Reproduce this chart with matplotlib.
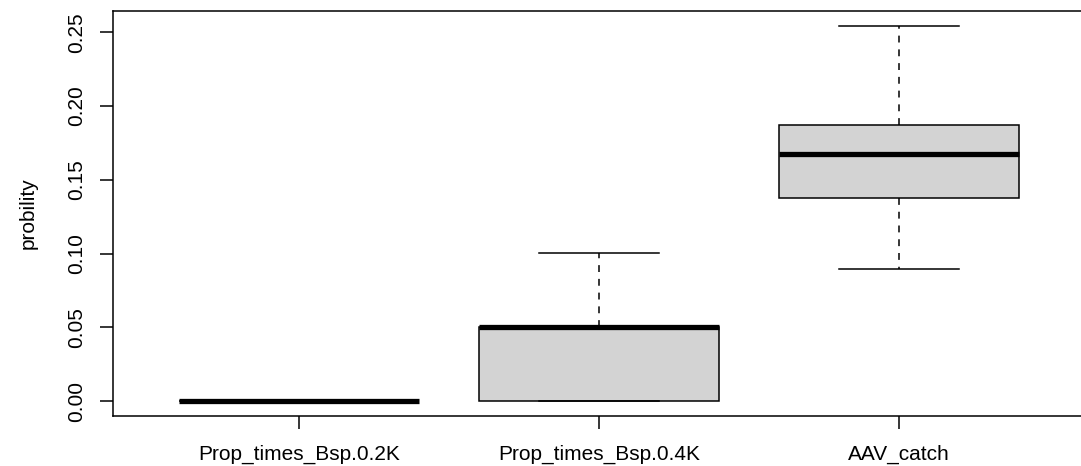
import matplotlib
matplotlib.use("Agg")
import matplotlib.pyplot as plt

#-----------------------------#
#            Data
#-----------------------------#

labels = ["Prop_times_Bsp.0.2K", "Prop_times_Bsp.0.4K", "AAV_catch"]
whis_low = [0.0, 0.0, 0.0897]
q1 = [0.0, 0.0, 0.1377]
medians = [0.0, 0.05, 0.1677]
q3 = [0.0, 0.05, 0.1873]
whis_high = [0.0, 0.1001, 0.2543]
y_ticks = [0.00, 0.05, 0.10, 0.15, 0.20, 0.25]

#-----------------------------#
#            Plot
#-----------------------------#

plt.rcParams['font.family'] = ['Liberation Sans', 'DejaVu Sans']
fs = 15

fig = plt.figure(figsize=(10.81, 4.66), dpi=100)
# axes runs a bit past the right edge, like the reference
ax = fig.add_axes([113 / 1081, 1 - 416 / 466, 972 / 1081, 405 / 466])

stats = []
for i in range(len(labels)):
    stats.append({
        'label': labels[i],
        'whislo': whis_low[i],
        'q1': q1[i],
        'med': medians[i],
        'q3': q3[i],
        'whishi': whis_high[i],
        'fliers': [],
    })

ax.bxp(stats, positions=[1, 2, 3], widths=0.8, patch_artist=True,
       showfliers=False,
       boxprops=dict(facecolor='#D3D3D3', edgecolor='black', linewidth=1.1),
       medianprops=dict(color='black', linewidth=3.8),
       whiskerprops=dict(color='black', linewidth=1.1, linestyle=(0, (4.5, 4.5))),
       capprops=dict(color='black', linewidth=1.1),
       capwidths=0.4)

ymax = max(whis_high)
pad_y = ymax * 0.04
ax.set_ylim(-pad_y, ymax + pad_y)
ax.set_xlim(0.38, 3.62)

ax.set_yticks(y_ticks)
ax.set_yticklabels(["%.2f" % t for t in y_ticks], rotation=90, va='center',
                   fontsize=fs)
ax.set_xticks([1, 2, 3])
ax.set_xticklabels(labels, fontsize=fs)
ax.tick_params(axis='y', length=9.4, width=1.1, pad=10)
ax.tick_params(axis='x', length=9.4, width=1.1, pad=11)

for sp in ax.spines.values():
    sp.set_linewidth(1.1)

fig.text(28 / 1081, 1 - 213.5 / 466, "probility", rotation=90,
         ha='center', va='center', fontsize=fs)

fig.savefig("out.png", dpi=100)
